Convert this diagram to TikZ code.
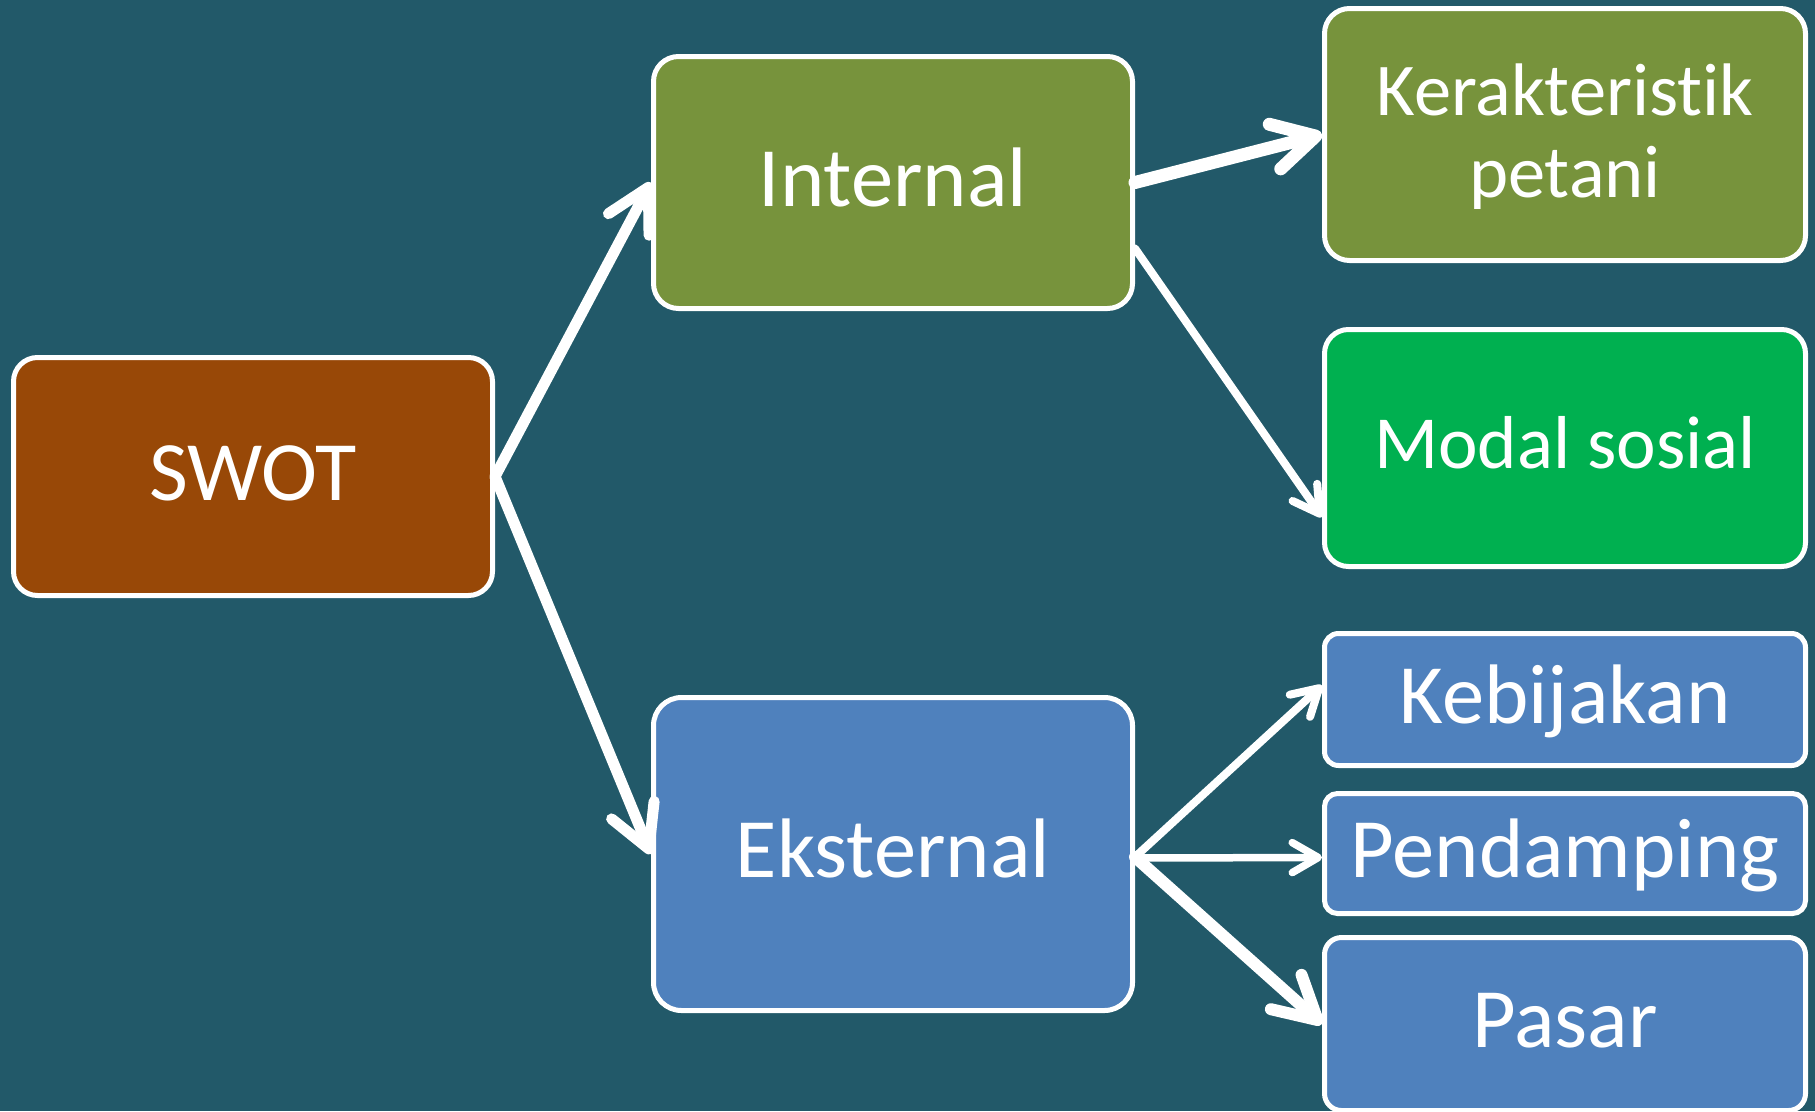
\documentclass[tikz,border=0pt]{standalone}
\usepackage{fontspec}
\setmainfont{Carlito}[Ligatures=NoCommon]
\usetikzlibrary{arrows.meta}
\definecolor{bgteal}{HTML}{225969}
\definecolor{swotbrown}{HTML}{984807}
\definecolor{olivegreen}{HTML}{77933C}
\definecolor{brightgreen}{HTML}{00B050}
\definecolor{steelblue}{HTML}{4F81BD}
\begin{document}
\begin{tikzpicture}[x=1pt,y=-1pt,
  box/.style={draw=white, line width=5pt, rounded corners=#1, text=white,
    inner sep=0pt, font=\fontsize{84.5}{100}\selectfont,
    text height=53pt, text depth=6pt},
  box/.default=24pt,
  smallfont/.style={font=\fontsize{75}{90}\selectfont, text height=47pt, text depth=6pt},
  plaintext/.style={text=white, inner sep=0pt, font=\fontsize{74.5}{88}\selectfont},
  bigarrow/.style={draw=white, line width=#1, line cap=round,
    -{Straight Barb[length=42pt,width=46pt,round]}},
  smallarrow/.style={draw=white, line width=#1, line cap=round,
    -{Straight Barb[length=26pt,width=30pt,round]}}
]
\path[use as bounding box] (0,0) rectangle (1815,1111);
\clip (0,0) rectangle (1815,1111);
\fill[bgteal] (0,0) rectangle (1815,1111);

% boxes
\node[box=24pt, fill=swotbrown, minimum width=479pt, minimum height=238pt] (swot) at (253,476.5) {SWOT};
\node[box=25pt, fill=olivegreen, minimum width=479pt, minimum height=252pt] (internal) at (893,182.5) {Internal};
\node[box=28pt, fill=steelblue, minimum width=479pt, minimum height=313pt] (eksternal) at (893,854) {Eksternal};
\node[box=25pt, fill=olivegreen, minimum width=481pt, minimum height=252pt] (kera) at (1565,134.5) {};
\node[plaintext, anchor=base] (keraA) at ([yshift=19.5pt]kera.center) {Kerakteristik};
\node[plaintext, anchor=base] (keraB) at ([yshift=-62.5pt]kera.center) {petani};
\node[box=24pt, smallfont, fill=brightgreen, minimum width=481pt, minimum height=237pt] (modal) at (1565,448) {Modal sosial};
\node[box=14pt, fill=steelblue, minimum width=481pt, minimum height=132pt] (kebijakan) at (1565,699.5) {Kebijakan};
\node[box=13pt, fill=steelblue, minimum width=481pt, minimum height=120pt] (pendamping) at (1565,853.5) {Pendamping};
\node[box=17pt, fill=steelblue, minimum width=481pt, minimum height=173pt] (pasar) at (1565,1024) {Pasar};

% connectors
\draw[bigarrow=11pt] (swot.east) -- (internal.west);
\draw[bigarrow=11pt] (swot.east) -- (eksternal.west);
\draw[bigarrow=13pt] (internal.east) -- (kera.west);
\draw[smallarrow=8pt] ([yshift=-66pt]internal.east) -- ([yshift=-69pt]modal.west);
\draw[smallarrow=8pt] ([yshift=-3pt]eksternal.east) -- ([yshift=14pt]kebijakan.west);
\draw[smallarrow=7.5pt] ([yshift=-4pt]eksternal.east) -- ([yshift=-4pt]pendamping.west);
\draw[bigarrow=12pt] ([yshift=-3pt]eksternal.east) -- (pasar.west);
\end{tikzpicture}
\end{document}
